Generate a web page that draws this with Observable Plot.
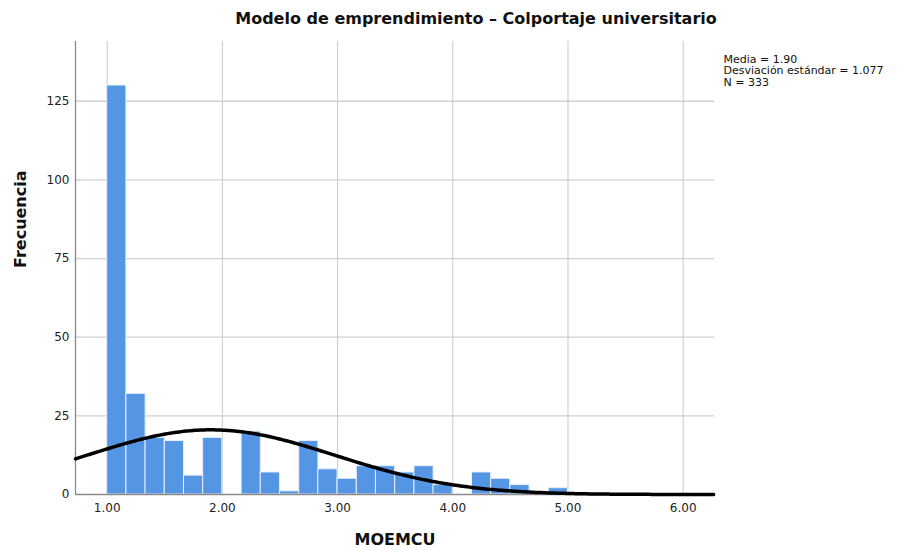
<!DOCTYPE html>
<html>
<head>
<meta charset="utf-8">
<script src="https://cdn.jsdelivr.net/npm/d3@7"></script>
<script src="https://cdn.jsdelivr.net/npm/@observablehq/plot@0.6"></script>
<style>
  body { margin: 0; background: #fff; }
  svg { font-family: "DejaVu Sans", sans-serif; }
</style>
</head>
<body>
<div id="chart"></div>
<script>
// Histogram data (bin lower edges and counts)
const binStarts = [1.000, 1.167, 1.333, 1.500, 1.667, 1.833, 2.000, 2.167, 2.333, 2.500, 2.667, 2.833,
                   3.000, 3.167, 3.333, 3.500, 3.667, 3.833, 4.000, 4.167, 4.333, 4.500, 4.667, 4.833];
const binWidth = 1 / 6;
const counts = [130, 32, 18, 17, 6, 18, 0, 20, 7, 1, 17, 8,
                5, 9, 9, 7, 9, 3, 0, 7, 5, 3, 0, 2];
const xTicks = [1, 2, 3, 4, 5, 6];
const yTicks = [0, 25, 50, 75, 100, 125];
const mean = 1.90, sd = 1.077, n = 333;
const title = "Modelo de emprendimiento – Colportaje universitario";
const statsLines = ["Media = 1.90", "Desviación estándar = 1.077", "N = 333"];
const xLabel = "MOEMCU", yLabel = "Frecuencia";

const bins = binStarts.map((s, i) => ({x1: s, x2: s + binWidth, y: counts[i]}));
const xDomain = [0.725, 6.272];
const curve = d3.range(xDomain[0], xDomain[1] + 0.001, 0.02).map(x => ({
  x, y: n * binWidth * Math.exp(-0.5 * ((x - mean) / sd) ** 2) / (sd * Math.sqrt(2 * Math.PI))
}));

const chart = Plot.plot({
  width: 901,
  height: 550,
  marginLeft: 75,
  marginRight: 187,
  marginTop: 41,
  marginBottom: 56,
  style: {fontFamily: "DejaVu Sans, sans-serif", fontSize: "12px", color: "#222"},
  x: {domain: xDomain, ticks: xTicks, tickFormat: d => d.toFixed(2), label: null, tickSize: 0, tickPadding: 9},
  y: {domain: [0, 144], ticks: yTicks, label: null, tickSize: 0, tickPadding: 6},
  marks: [
    Plot.gridX(xTicks, {stroke: "#c8c8c8", strokeOpacity: 1}),
    Plot.gridY(yTicks.slice(1), {stroke: "#d0d0d0", strokeOpacity: 1, strokeWidth: 1.3}),
    Plot.rectY(bins, {x1: "x1", x2: "x2", y: "y", fill: "#5596e4", stroke: "#e6effb", strokeWidth: 1, inset: 0}),
    Plot.ruleX([xDomain[0]], {stroke: "#8a8a8a", strokeWidth: 1.3}),
    Plot.ruleY([0], {stroke: "#8a8a8a", strokeWidth: 1.3}),
    Plot.line(curve, {x: "x", y: "y", stroke: "#000", strokeWidth: 3.5, curve: "basis"}),
    Plot.axisX({ticks: xTicks, tickFormat: d => d.toFixed(2), tickSize: 0, tickPadding: 9, fontSize: 12, fill: "#222", label: null}),
    Plot.axisY({ticks: yTicks, tickSize: 0, tickPadding: 6, fontSize: 12, fill: "#222", label: null}),
    Plot.text([title], {frameAnchor: "top", dx: 81, dy: -29, fontWeight: "bold", fontSize: 16, fill: "#111"}),
    Plot.text([xLabel], {frameAnchor: "bottom", dy: 50, fontWeight: "bold", fontSize: 16, fill: "#111"}),
    Plot.text([yLabel], {frameAnchor: "left", dx: -55, rotate: -90, fontWeight: "bold", fontSize: 16, fill: "#111"}),
    Plot.text([statsLines.join("\n")], {frameAnchor: "top-right", textAnchor: "start", lineAnchor: "top",
      dx: 9, dy: 13, lineHeight: 1.05, fontSize: 11, fill: "#111"})
  ]
});
document.getElementById("chart").appendChild(chart);
</script>
</body>
</html>
